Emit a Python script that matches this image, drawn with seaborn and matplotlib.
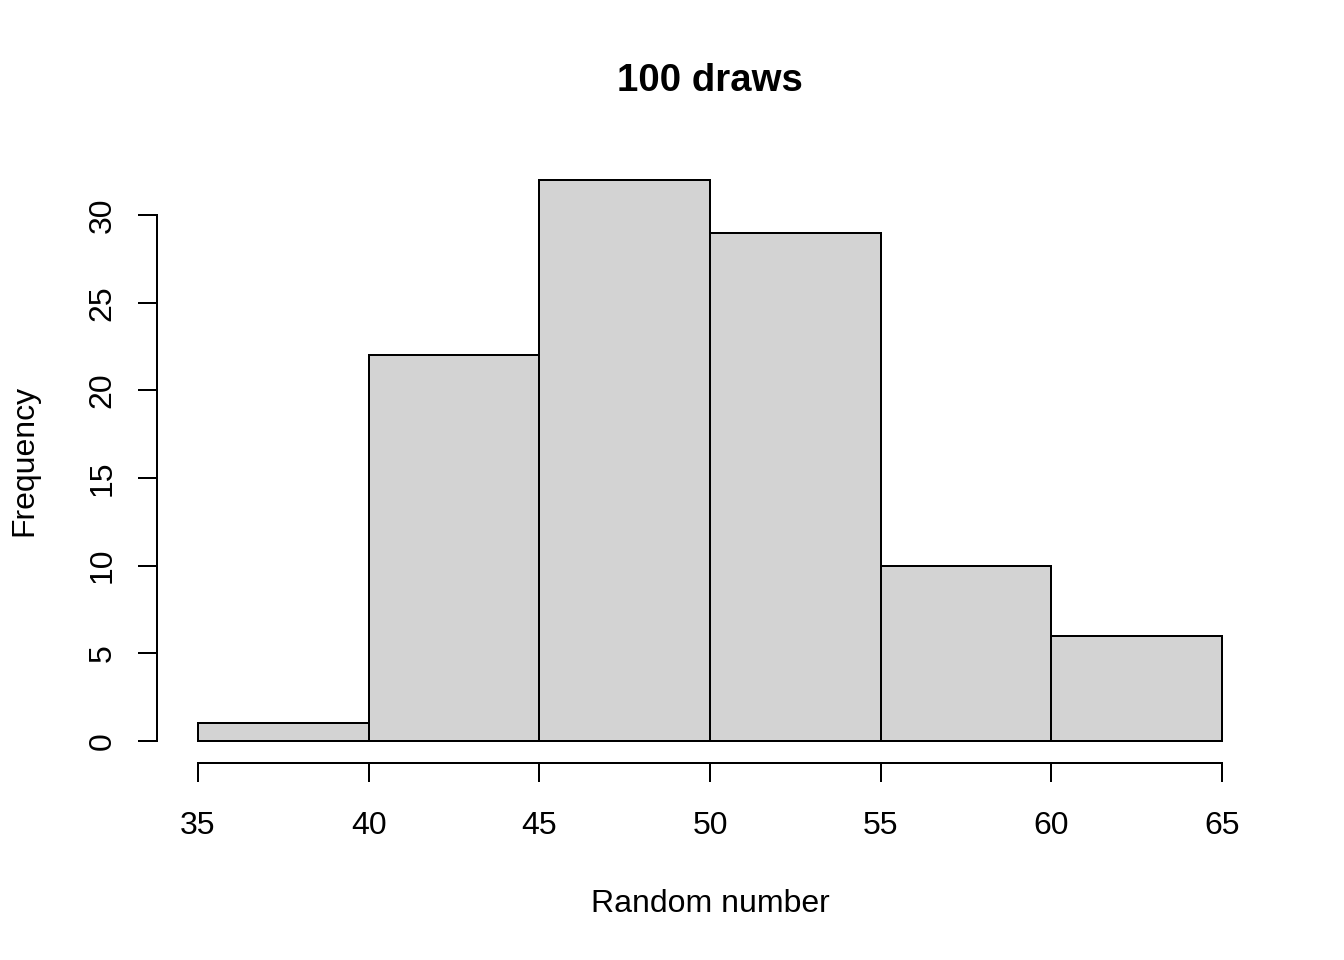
import numpy as np
import matplotlib
matplotlib.use("Agg")
import matplotlib.pyplot as plt
import seaborn as sns

# bin edges and counts
bin_edges = [35, 40, 45, 50, 55, 60, 65]
counts = [1, 22, 32, 29, 10, 6]
x_ticks = [35, 40, 45, 50, 55, 60, 65]
y_ticks = [0, 5, 10, 15, 20, 25, 30]

sns.set_style("white")
plt.rcParams["font.family"] = ["Liberation Sans", "DejaVu Sans"]
plt.rcParams["text.color"] = "black"
plt.rcParams["axes.labelcolor"] = "black"

mids = [(a + b) / 2 for a, b in zip(bin_edges[:-1], bin_edges[1:])]

fig = plt.figure(figsize=(7, 5), dpi=192)
ax = fig.add_axes([157 / 1344, 1 - 763.4 / 960, (1263 - 157) / 1344, (763.4 - 157.6) / 960])

sns.histplot(x=mids, weights=counts, bins=bin_edges, ax=ax,
             color="#D3D3D3", edgecolor="black", linewidth=0.75, alpha=1)

ax.set_xlim(35 - 1.2, 65 + 1.2)
ax.set_ylim(-32 * 0.04, 32 * 1.04)

for s in ["top", "right"]:
    ax.spines[s].set_visible(False)
ax.spines["left"].set_bounds(0, 30)
ax.spines["bottom"].set_bounds(35, 65)
for s in ["left", "bottom"]:
    ax.spines[s].set_linewidth(0.75)
    ax.spines[s].set_color("black")

ax.set_xticks(x_ticks)
ax.set_yticks(y_ticks)
ax.tick_params(axis="both", direction="out", length=7.2, width=0.75, color="black",
               labelsize=12, labelcolor="black", bottom=True, left=True)
ax.tick_params(axis="x", pad=10.5)
ax.tick_params(axis="y", pad=7.5)
for lab in ax.get_yticklabels():
    lab.set_rotation(90)
    lab.set_va("center")

ax.set_xlabel("Random number", fontsize=12, labelpad=18, color="black")
ax.set_ylabel("Frequency", fontsize=12, labelpad=18, color="black")
ax.set_title("100 draws", fontsize=14.4, fontweight="bold", pad=25, color="black")

fig.savefig("out.png", dpi=192)
